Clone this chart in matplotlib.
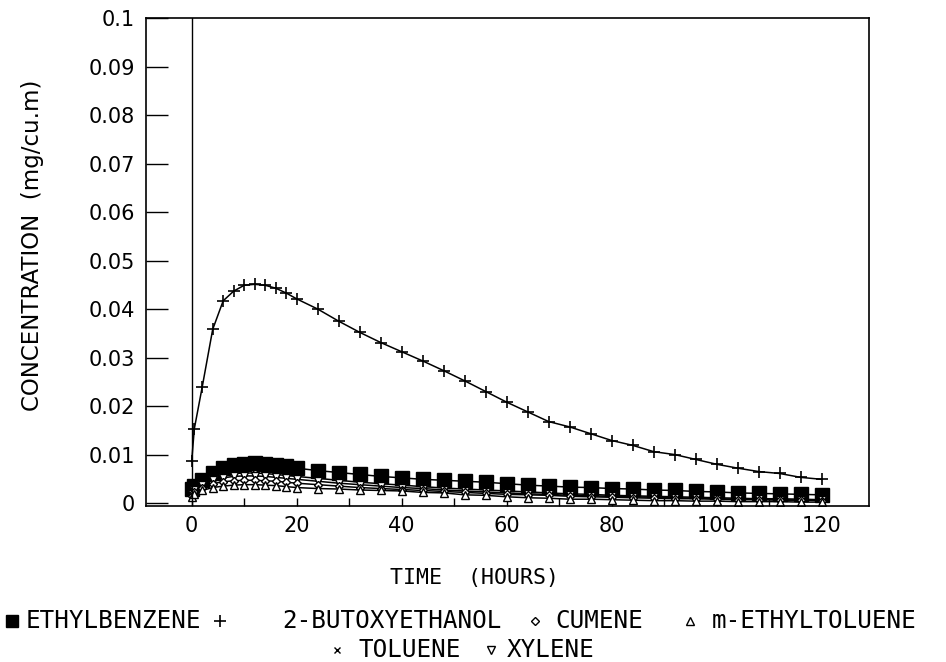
import matplotlib
matplotlib.use("Agg")
import matplotlib.pyplot as plt
from matplotlib.lines import Line2D

# sampling times (hours)
hours = [0, 0.5, 2, 4, 6, 8, 10, 12, 14, 16, 18, 20,
         24, 28, 32, 36, 40, 44, 48, 52, 56, 60, 64, 68, 72,
         76, 80, 84, 88, 92, 96, 100, 104, 108, 112, 116, 120]

# concentrations (mg/cu.m)
ethylbenzene = [0.0030, 0.0035, 0.0048, 0.0062, 0.0072, 0.0078, 0.0081, 0.0082, 0.0081,
                0.0079, 0.0076, 0.0072, 0.0067, 0.0063, 0.0059, 0.0055, 0.0052, 0.0049,
                0.0047, 0.0045, 0.0043, 0.0040, 0.0037, 0.0035, 0.0033, 0.0032, 0.0030,
                0.0029, 0.0027, 0.0026, 0.0024, 0.0023, 0.0021, 0.0020, 0.0019, 0.0018, 0.0017]
butoxyethanol = [0.0086, 0.0153, 0.0239, 0.0358, 0.0417, 0.0437, 0.0449, 0.0451, 0.0449,
                 0.0443, 0.0433, 0.0421, 0.0400, 0.0375, 0.0352, 0.0331, 0.0312, 0.0293,
                 0.0273, 0.0252, 0.0230, 0.0208, 0.0188, 0.0168, 0.0157, 0.0143, 0.0129,
                 0.0119, 0.0106, 0.0100, 0.0090, 0.0080, 0.0072, 0.0065, 0.0061, 0.0053, 0.0049]
cumene = [0.0015, 0.0022, 0.0032, 0.0040, 0.0044, 0.0046, 0.0047, 0.0047, 0.0046,
          0.0045, 0.0043, 0.0041, 0.0038, 0.0035, 0.0032, 0.0030, 0.0028, 0.0026,
          0.0024, 0.0022, 0.0020, 0.0018, 0.0017, 0.0016, 0.0014, 0.0013, 0.0012,
          0.0011, 0.0010, 0.0009, 0.0009, 0.0008, 0.0007, 0.0007, 0.0006, 0.0006, 0.0005]
m_ethyltoluene = [0.0012, 0.0018, 0.0026, 0.0032, 0.0035, 0.0037, 0.0038, 0.0038, 0.0037,
                  0.0036, 0.0034, 0.0032, 0.0030, 0.0029, 0.0027, 0.0026, 0.0025, 0.0022,
                  0.0021, 0.0017, 0.0016, 0.0013, 0.0011, 0.0010, 0.0008, 0.0008, 0.0007,
                  0.0006, 0.0005, 0.0005, 0.0004, 0.0004, 0.0003, 0.0003, 0.0003, 0.0002, 0.0002]
toluene = [0.0020, 0.0030, 0.0042, 0.0052, 0.0058, 0.0061, 0.0062, 0.0062, 0.0061,
           0.0059, 0.0057, 0.0055, 0.0051, 0.0047, 0.0043, 0.0040, 0.0037, 0.0034,
           0.0031, 0.0029, 0.0027, 0.0025, 0.0023, 0.0021, 0.0019, 0.0018, 0.0016,
           0.0015, 0.0014, 0.0013, 0.0012, 0.0011, 0.0010, 0.0009, 0.0009, 0.0008, 0.0007]
xylene = [0.0018, 0.0027, 0.0038, 0.0047, 0.0052, 0.0055, 0.0056, 0.0056, 0.0055,
          0.0053, 0.0051, 0.0049, 0.0045, 0.0041, 0.0038, 0.0035, 0.0032, 0.0030,
          0.0027, 0.0025, 0.0023, 0.0021, 0.0019, 0.0018, 0.0016, 0.0015, 0.0014,
          0.0013, 0.0012, 0.0011, 0.0010, 0.0009, 0.0008, 0.0008, 0.0007, 0.0006, 0.0006]

ytick_vals = [0, 0.01, 0.02, 0.03, 0.04, 0.05, 0.06, 0.07, 0.08, 0.09, 0.1]
ytick_text = ["0", "0.01", "0.02", "0.03", "0.04", "0.05", "0.06", "0.07", "0.08", "0.09", "0.1"]

W, H = 946, 662
fig = plt.figure(figsize=(W / 100, H / 100), dpi=100)
ax = fig.add_axes([146 / W, 1 - 506 / H, (869 - 146) / W, (506 - 18) / H])

lw = 1.1
ax.plot(hours, ethylbenzene, color="black", lw=lw, marker="s", ms=10.5, mfc="black", mec="black")
ax.plot(hours, butoxyethanol, color="black", lw=lw, marker="+", ms=9, mew=1.2)
ax.plot(hours, toluene, color="black", lw=lw, marker="x", ms=5, mew=1.0)
ax.plot(hours, xylene, color="black", lw=lw, marker="v", ms=5.5, mfc="white", mec="black", mew=1.0)
ax.plot(hours, cumene, color="black", lw=lw, marker="D", ms=4.5, mfc="white", mec="black", mew=1.0)
ax.plot(hours, m_ethyltoluene, color="black", lw=lw, marker="^", ms=5.5, mfc="white", mec="black", mew=1.0)

ax.axvline(0, color="black", lw=1.0)

ax.set_xlim(-8.7, 129)
ax.set_ylim(-0.0006, 0.1)
ax.set_xticks(range(0, 121, 20))
ax.set_xticks(range(10, 120, 20), minor=True)
ax.set_yticks(ytick_vals)
ax.set_yticklabels(ytick_text)
ax.tick_params(axis="x", which="both", direction="in", length=6, width=1.0, pad=7, labelsize=15)
ax.tick_params(axis="y", direction="in", length=16, width=1.0, pad=8, labelsize=15)
for sp in ax.spines.values():
    sp.set_linewidth(1.2)

fig.text(32 / W, 1 - 245 / H, "CONCENTRATION  (mg/cu.m)", rotation=90, ha="center", va="center",
         fontsize=16.5)
mono = "DejaVu Sans Mono"
fig.text(474 / W, 1 - 578 / H, "TIME  (HOURS)", ha="center", va="center", fontsize=15.5, family=mono)

# legend, drawn by hand to follow the two centred rows of the original
def key(x, y, marker, **kw):
    fig.add_artist(Line2D([x / W], [1 - y / H], marker=marker, color="black", linestyle="none", **kw))

def label(x, y, s):
    fig.text(x / W, 1 - y / H, s, ha="left", va="center", fontsize=17.5, family=mono)

r1, r2 = 621, 650
key(12, r1, "s", ms=9, mfc="black")
label(26, r1, "ETHYLBENZENE")
key(220, r1, "+", ms=9, mew=1.2)
label(282, r1, "2-BUTOXYETHANOL")
key(535, r1, "D", ms=4.5, mfc="white", mew=1.0)
label(555, r1, "CUMENE")
key(690, r1, "^", ms=5.5, mfc="white", mew=1.0)
label(712, r1, "m-ETHYLTOLUENE")
key(337, r2, "x", ms=5, mew=1.0)
label(358, r2, "TOLUENE")
key(491, r2, "v", ms=5.5, mfc="white", mew=1.0)
label(507, r2, "XYLENE")

fig.savefig("out.png", dpi=100)
